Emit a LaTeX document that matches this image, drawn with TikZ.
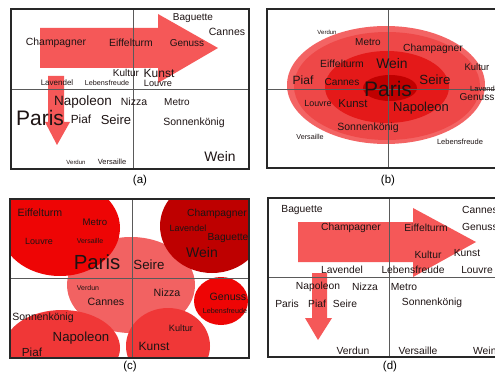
\documentclass[tikz,border=0pt]{standalone}
\usepackage{fontspec}
\setmainfont{Liberation Sans}
\definecolor{txt}{RGB}{30,20,20}
\definecolor{arr}{RGB}{245,88,88}
\definecolor{ringA}{RGB}{243,100,100}
\definecolor{ringB}{RGB}{238,72,72}
\definecolor{ringC}{RGB}{228,25,25}
\definecolor{ringD}{RGB}{192,0,0}
\definecolor{cRed}{RGB}{238,5,5}
\definecolor{cPink}{RGB}{242,98,98}
\definecolor{cDark}{RGB}{190,0,0}
\definecolor{cMid}{RGB}{240,55,55}
\definecolor{frm}{RGB}{40,40,40}
\definecolor{dvd}{RGB}{90,90,90}
\tikzset{
  w/.style={inner sep=0pt, text=txt},
  fs/.style={font=\fontsize{#1}{#1}\selectfont},
  frame/.style={draw=frm, line width=1.1pt},
  divider/.style={draw=dvd, line width=0.8pt},
  arrowshape/.style={fill=arr, draw=none},
  lbl/.style={inner sep=0pt, text=black, font=\fontsize{11.5}{11.5}\selectfont},
}
\begin{document}
\begin{tikzpicture}[x=1pt,y=-1pt]
\useasboundingbox (0,0) rectangle (495,374);
\fill[white] (0,0) rectangle (495,374);

% ================= (a) =================
\fill[arrowshape] (40,28) -- (158,28) -- (158,14) -- (218,48) -- (158,83) -- (158,68) -- (40,68) -- cycle;
\fill[arrowshape] (48,76) -- (64,76) -- (64,122) -- (70,122) -- (57,145) -- (45,122) -- (48,122) -- cycle;
\draw[divider] (133,9) -- (133,169);
\draw[divider] (11,89) -- (249,89);
\draw[frame] (11,9) rectangle (249,169);
\node[w,fs=10] (aBaguette) at (193,18) {Baguette};
\node[w,fs=10.5] (aCannes) at (227,32) {Cannes};
\node[w,fs=10.4] (aChampagner) at (56,43) {Champagner};
\node[w,fs=10.4] (aEiffelturm) at (131,43) {Eiffelturm};
\node[w,fs=10] (aGenuss) at (187,43) {Genuss};
\node[w,fs=10] (aKultur) at (126,73) {Kultur};
\node[w,fs=12] (aKunst) at (159,73) {Kunst};
\node[w,fs=8] (aLavendel) at (57,83) {Lavendel};
\node[w,fs=7.2] (aLebensfreude) at (107,83) {Lebensfreude};
\node[w,fs=9.2] (aLouvre) at (158,83) {Louvre};
\node[w,fs=13.5] (aNapoleon) at (83,102) {Napoleon};
\node[w,fs=10.5] (aNizza) at (134,102) {Nizza};
\node[w,fs=10] (aMetro) at (177,102) {Metro};
\node[w,fs=21] (aParis) at (40,118) {Paris};
\node[w,fs=11.8] (aPiaf) at (81,119) {Piaf};
\node[w,fs=13] (aSeire) at (116,120) {Seire};
\node[w,fs=10.5] (aSonnenkonig) at (194,123) {Sonnenkönig};
\node[w,fs=13.8] (aWein) at (220,157) {Wein};
\node[w,fs=6] (aVerdun) at (76,162) {Verdun};
\node[w,fs=7.5] (aVersaille) at (112,162) {Versaille};
\node[lbl] (la) at (140,181) {(a)};

% ================= (b) =================
\fill[ringA] (386,85) ellipse [x radius=99, y radius=59];
\fill[ringB] (387,86) ellipse [x radius=93, y radius=54];
\fill[ringC] (387,87) ellipse [x radius=62, y radius=36];
\fill[ringD] (390,88) ellipse [x radius=27, y radius=13];
\draw[divider] (388,9) -- (388,168);
\draw[divider] (267,89) -- (500,89);
\draw[frame] (267,9) rectangle (500,168);
\node[w,fs=6] (bVerdun) at (327,32) {Verdun};
\node[w,fs=10] (bMetro) at (368,42) {Metro};
\node[w,fs=10.3] (bChampagner) at (433,49) {Champagner};
\node[w,fs=10.4] (bEiffelturm) at (342,64) {Eiffelturm};
\node[w,fs=13.9] (bWein) at (392,64) {Wein};
\node[w,fs=9.5] (bKultur) at (477,67) {Kultur};
\node[w,fs=12] (bPiaf) at (303,80) {Piaf};
\node[w,fs=10.1] (bCannes) at (342,82) {Cannes};
\node[w,fs=21] (bParis) at (388,89) {Paris};
\node[w,fs=13.3] (bSeire) at (435,80) {Seire};
\node[w,fs=7.5,anchor=west] (bLavendel) at (470,89) {Lavendel};
\node[w,fs=10.1] (bGenuss) at (477,97) {Genuss};
\node[w,fs=8.9] (bLouvre) at (318,103) {Louvre};
\node[w,fs=11.4] (bKunst) at (353,104) {Kunst};
\node[w,fs=13] (bNapoleon) at (421,108) {Napoleon};
\node[w,fs=10.5] (bSonnenkonig) at (368,128) {Sonnenkönig};
\node[w,fs=7.2] (bVersaille) at (310,137) {Versaille};
\node[w,fs=7.5] (bLebensfreude) at (460,142) {Lebensfreude};
\node[lbl] (lb) at (388,181) {(b)};

% ================= (c) =================
\begin{scope}
\clip (10,199) rectangle (249,358);
\fill[cPink] (131,285) ellipse [x radius=64, y radius=48];
\fill[cRed] (60,228) ellipse [x radius=60, y radius=48];
\fill[cDark] (212,226) ellipse [x radius=52, y radius=47];
\fill[cRed] (221,301) ellipse [x radius=27, y radius=24];
\fill[cMid] (62,348) ellipse [x radius=58, y radius=38];
\fill[cMid] (168,346) ellipse [x radius=42, y radius=38];
\end{scope}
\draw[divider] (132,199) -- (132,358);
\draw[divider] (10,278) -- (249,278);
\draw[frame] (10,199) rectangle (249,358);
\node[w,fs=10.6] (cEiffelturm) at (40,213) {Eiffelturm};
\node[w,fs=9.6] (cMetro) at (95,222) {Metro};
\node[w,fs=9] (cLouvre) at (39,241) {Louvre};
\node[w,fs=7] (cVersaille) at (90,241) {Versaille};
\node[w,fs=20.4] (cParis) at (97,262) {Paris};
\node[w,fs=13.3] (cSeire) at (149,265) {Seire};
\node[w,fs=10.3] (cChampagner) at (217,214) {Champagner};
\node[w,fs=9] (cLavendel) at (188,228) {Lavendel};
\node[w,fs=10.2] (cBaguette) at (228,238) {Baguette};
\node[w,fs=14] (cWein) at (202,252) {Wein};
\node[w,fs=7] (cVerdun) at (88,288) {Verdun};
\node[w,fs=10.6] (cCannes) at (106,302) {Cannes};
\node[w,fs=10.6] (cNizza) at (167,293) {Nizza};
\node[w,fs=10.6] (cGenuss) at (228,297) {Genuss};
\node[w,fs=7.2] (cLebensfreude) at (225,311) {Lebensfreude};
\node[w,fs=10.5] (cSonnenkonig) at (43,318) {Sonnenkönig};
\node[w,fs=13.2] (cNapoleon) at (81,338) {Napoleon};
\node[w,fs=11.7] (cPiaf) at (32,352) {Piaf};
\node[w,fs=9.2] (cKultur) at (181,328) {Kultur};
\node[w,fs=12] (cKunst) at (154,346) {Kunst};
\node[lbl] (lc) at (130,367) {(c)};

% ================= (d) =================
\fill[arrowshape] (298,222) -- (413,222) -- (413,208) -- (476,242) -- (413,277) -- (413,262) -- (298,262) -- cycle;
\fill[arrowshape] (312,273) -- (327,273) -- (327,318) -- (332,318) -- (318,340) -- (305,318) -- (312,318) -- cycle;
\draw[divider] (389,198) -- (389,357);
\draw[divider] (268,277) -- (500,277);
\draw[frame] (268,198) rectangle (500,357);
\tikzset{dt/.style={w,fs=10.3}}
\node[dt] (dBaguette) at (302,210) {Baguette};
\node[dt] (dChampagner) at (351,228) {Champagner};
\node[dt] (dEiffelturm) at (426,228) {Eiffelturm};
\node[dt,anchor=west] (dCannes) at (462,210) {Cannes};
\node[dt,anchor=west] (dGenuss) at (462,227) {Genuss};
\node[dt] (dKultur) at (428,255) {Kultur};
\node[dt] (dKunst) at (467,253) {Kunst};
\node[dt] (dLavendel) at (342,270) {Lavendel};
\node[dt] (dLebensfreude) at (413,270) {Lebensfreude};
\node[dt] (dLouvre) at (477,270) {Louvre};
\node[dt] (dNapoleon) at (318,287) {Napoleon};
\node[dt] (dNizza) at (365,287) {Nizza};
\node[dt] (dMetro) at (404,287) {Metro};
\node[dt] (dParis) at (287,304) {Paris};
\node[dt] (dPiaf) at (317,304) {Piaf};
\node[dt] (dSeire) at (345,304) {Seire};
\node[dt] (dSonnenkonig) at (432,303) {Sonnenkönig};
\node[dt] (dVerdun) at (353,351) {Verdun};
\node[dt] (dVersaille) at (418,351) {Versaille};
\node[dt,anchor=west] (dWein) at (473,351) {Wein};
\node[lbl] (ld) at (390,367) {(d)};
\end{tikzpicture}
\end{document}
